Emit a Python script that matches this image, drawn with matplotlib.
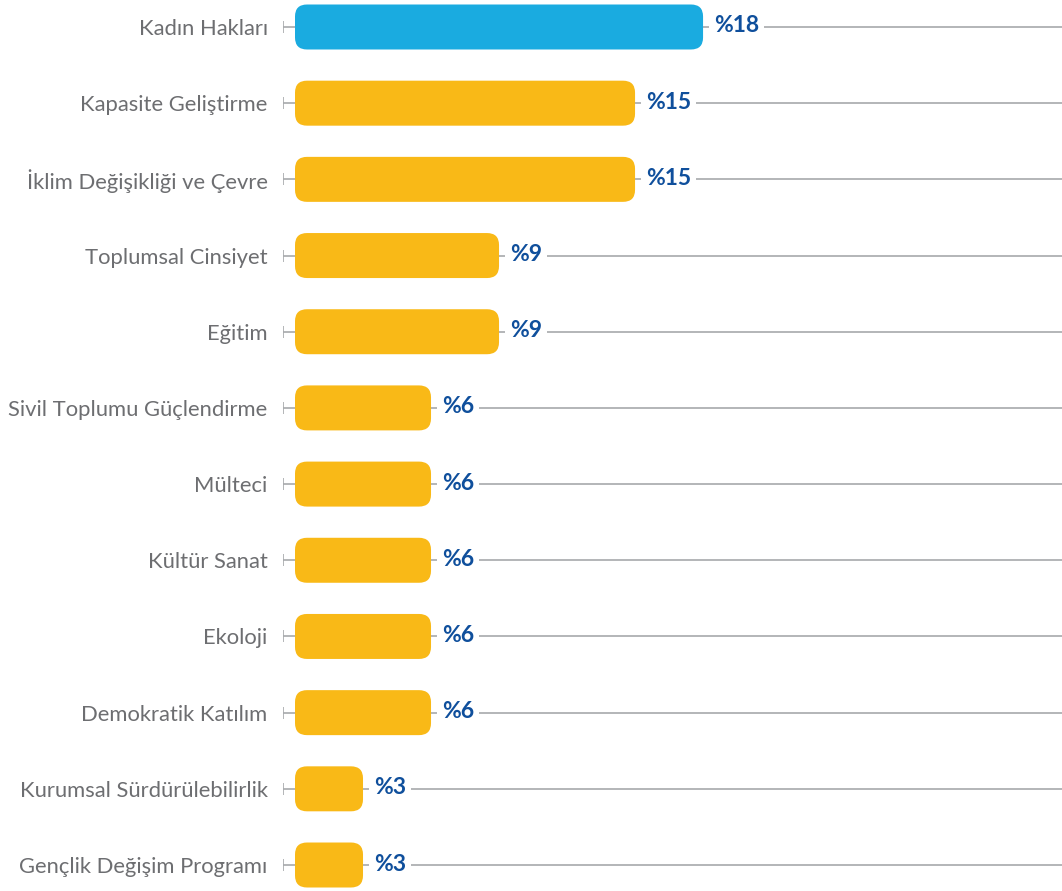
import matplotlib
matplotlib.use('Agg')
import matplotlib.pyplot as plt
from matplotlib.patches import FancyBboxPatch

# data
categories = ['Kadın Hakları', 'Kapasite Geliştirme', 'İklim Değişikliği ve Çevre',
              'Toplumsal Cinsiyet', 'Eğitim', 'Sivil Toplumu Güçlendirme', 'Mülteci',
              'Kültür Sanat', 'Ekoloji', 'Demokratik Katılım',
              'Kurumsal Sürdürülebilirlik', 'Gençlik Değişim Programı']
values = [18, 15, 15, 9, 9, 6, 6, 6, 6, 6, 3, 3]
value_labels = ['%18', '%15', '%15', '%9', '%9', '%6', '%6', '%6', '%6', '%6', '%3', '%3']

BLUE = '#1aabe0'
YELLOW = '#f9b917'
LABEL_BLUE = '#0f4f9c'
GRAY_TEXT = '#6d6e71'
LINE = '#a7a9ac'

fig = plt.figure(figsize=(10.62, 8.91), dpi=100)
ax = fig.add_axes([283 / 1062, 0, 1 - 283 / 1062, 1])

px = 22.67          # pixels per percent
row = 76.2          # pixels per row
ax.set_xlim(-12 / px, (1062 - 295) / px)
ax.set_ylim(11 + 26 / row, -27 / row)

bar_h = 45 / row
r = 12 / px
for i, v in enumerate(values):
    # gray guide line with a small end tick
    ax.plot([-12 / px, 40], [i, i], color=LINE, lw=1.2, zorder=1, solid_capstyle='butt')
    ax.plot([-12 / px], [i], marker='|', ms=8, mew=1.2, color=LINE, zorder=1)
    color = BLUE if i == 0 else YELLOW
    patch = FancyBboxPatch((0, i - bar_h / 2), v, bar_h,
                           boxstyle=f'round,pad=0,rounding_size={r}',
                           mutation_aspect=(12 / row) / r,
                           fc=color, ec='none', zorder=2)
    ax.add_patch(patch)
    ax.annotate(value_labels[i], (v, i), xytext=(11, 1), textcoords='offset pixels',
                ha='left', va='center', fontsize=16.5, fontweight='bold', color=LABEL_BLUE,
                family='Lato',
                bbox=dict(boxstyle='square,pad=0.2', fc='white', ec='none'), zorder=3)

ax.set_yticks(range(len(categories)))
ax.set_yticklabels(categories, fontsize=15.8, color=GRAY_TEXT, family='Lato')
ax.tick_params(axis='y', length=0, pad=11)
ax.tick_params(axis='x', bottom=False, labelbottom=False)
for s in ax.spines.values():
    s.set_visible(False)

fig.savefig('out.png', dpi=100)
